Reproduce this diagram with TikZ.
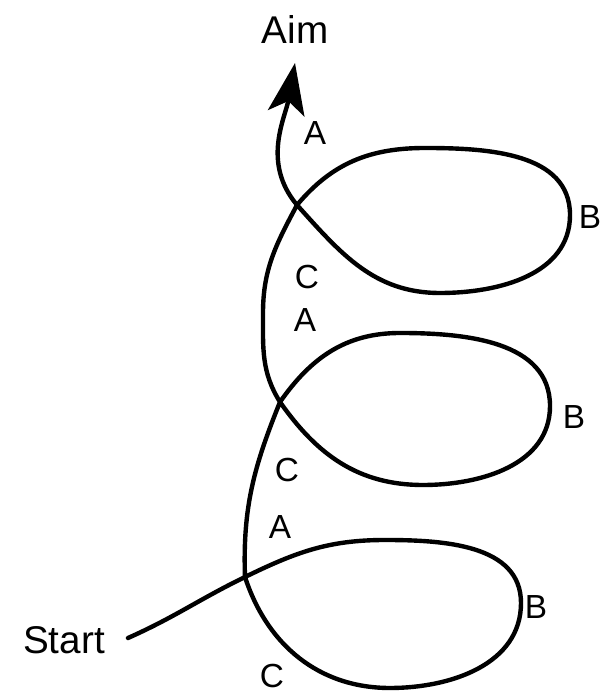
\documentclass[tikz,border=0pt]{standalone}
\usepackage{fontspec}
\setmainfont{Liberation Sans}
\usetikzlibrary{arrows.meta}

\begin{document}
\begin{tikzpicture}[
    x=0.02cm, y=0.02cm,
    tag/.style={text=black, font=\fontsize{19}{23}\selectfont},
    endtag/.style={text=black, font=\fontsize{22}{26}\selectfont},
    track/.style={draw=black, line width=2.5pt, line cap=round},
    aimtip/.style={-{Stealth[length=29pt, width=21pt, inset=7pt]}}
]
\useasboundingbox (0,0) rectangle (611,693);

% end labels
\node[endtag] (aim) at (295,663) {Aim};
\node[endtag] (start) at (64,53) {Start};

% points along the track
\coordinate (s) at (128,55);
\coordinate (x3) at (245,116);
\coordinate (t3) at (385,153);
\coordinate (r3) at (521,90);
\coordinate (b3) at (390,5);
\coordinate (x2) at (280,291);
\coordinate (t2) at (400,360);
\coordinate (r2) at (550,287);
\coordinate (b2) at (423,208);
\coordinate (l2) at (263,380);
\coordinate (x1) at (297,488);
\coordinate (t1) at (425,545);
\coordinate (r1) at (570,478);
\coordinate (b1) at (440,400);
\coordinate (tip) at (295,630);

% loop labels
\node[tag] (a1) at (315,560) {A};
\node[tag] (bb1) at (590,476) {B};
\node[tag] (c1) at (307,416) {C};
\node[tag] (a2) at (305,373) {A};
\node[tag] (bb2) at (574,276) {B};
\node[tag] (c2) at (287,223) {C};
\node[tag] (a3) at (280,166) {A};
\node[tag] (bb3) at (536,86) {B};
\node[tag] (c3) at (272,17) {C};

\draw[track, aimtip] (s) to[out=24, in=206] (x3)
    to[out=26, in=180] (t3)
    to[out=0, in=90] (r3)
    to[out=-90, in=0] (b3)
    to[out=180, in=-72] (x3)
    to[out=92, in=-112] (x2)
    to[out=55, in=180] (t2)
    to[out=0, in=90] (r2)
    to[out=-90, in=0] (b2)
    to[out=180, in=-55] (x2)
    to[out=122, in=-90] (l2)
    to[out=90, in=-118] (x1)
    to[out=50, in=180] (t1)
    to[out=0, in=90] (r1)
    to[out=-90, in=0] (b1)
    to[out=180, in=-48] (x1)
    to[out=130, in=-100] (tip);
\end{tikzpicture}
\end{document}
